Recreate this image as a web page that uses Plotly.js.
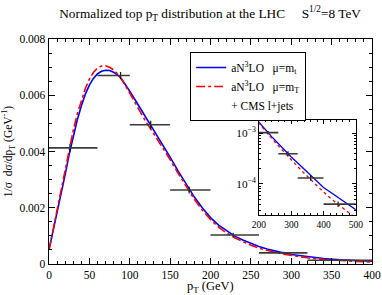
<!DOCTYPE html>
<html>
<head>
<meta charset="utf-8">
<script src="https://cdn.plot.ly/plotly-3.0.1.min.js"></script>
<style>html,body{margin:0;padding:0;background:#fff;}#chart{width:382px;height:295px;}</style>
</head>
<body>
<div id="chart"></div>
<script>
// Theory curves (pT in GeV, 1/sigma dsigma/dpT in GeV^-1)
const ptCurve = [0,5,10,15,20,25,30,35,40,45,50,55,60,65,70,75,80,85,90,95,100,110,120,130,140,150,160,170,180,190,200,210,220,230,240,250,260,270,280,290,300,320,340,360,380,400,425,450,475,500];
const blueMt = [0.00050,0.00115,0.00180,0.00248,0.00318,0.00390,0.00455,0.00512,0.00562,0.00604,0.00636,0.00660,0.00676,0.00685,0.00689,0.00688,0.00682,0.00672,0.00658,0.00638,0.00614,0.00568,0.00522,0.00475,0.00428,0.00380,0.00330,0.00282,0.00238,0.00199,0.00165,0.00138,0.00117,0.00099,0.00085,0.00073,0.000625,0.000535,0.00046,0.000395,0.00034,0.00026,0.000195,0.000145,0.00011,0.000085,0.000066,0.000052,0.00004,0.000031];
const redMT = [0.00050,0.00122,0.00192,0.00263,0.00335,0.00408,0.00475,0.00533,0.00582,0.00624,0.00657,0.00681,0.00697,0.00704,0.00705,0.00700,0.00690,0.00675,0.00656,0.00633,0.00608,0.00556,0.00506,0.00462,0.00418,0.00371,0.00322,0.00274,0.00230,0.00191,0.00158,0.00131,0.00110,0.00093,0.000785,0.000665,0.000565,0.00048,0.00041,0.00035,0.00030,0.00022,0.000163,0.000122,0.000091,0.000069,0.00005,0.000037,0.000028,0.000021];

// CMS l+jets data
const binLow  = [0,60,100,150,200,260,320,400];
const binHigh = [60,100,150,200,260,320,400,500];
const ptData  = [26,88.7,126,173.6,228,290,360,445];
const cmsVal  = [0.00413,0.00670,0.00495,0.00263,0.00103,0.000395,0.000131,0.000040];
const cmsErr  = [0.00014,0.00013,0.00014,0.00012,0.00008,0.000045,0.000015,0.000005];

// Tick labels
const xTicks = [0,50,100,150,200,250,300,350,400];
const yTicks = [0,0.002,0.004,0.006,0.008];
const yTickText = ['0','0.002','0.004','0.006','0.008'];
const insetXTicks = [200,300,400,500];

const serif = 'Liberation Serif, Times New Roman, serif';
const errPlus = binHigh.map((h,i)=>h-ptData[i]);
const errMinus = ptData.map((x,i)=>x-binLow[i]);

function dataTrace(xa, ya){
  return {
    x: ptData, y: cmsVal, xaxis: xa, yaxis: ya, type:'scatter', mode:'markers',
    marker:{size:1, color:'rgba(0,0,0,0)'}, showlegend:false, hoverinfo:'skip',
    error_x:{type:'data', symmetric:false, array:errPlus, arrayminus:errMinus, color:'#3a3a3a', thickness:1.6, width:0},
    error_y:{type:'data', array:cmsErr, color:'#000', thickness:1.1, width:0}
  };
}

const traces = [
  {x: ptCurve, y: blueMt, type:'scatter', mode:'lines', name:'aN<sup>3</sup>LO\u00a0\u00a0\u00a0μ=m<sub>t</sub>', line:{color:'#0000ff', width:1.6}},
  {x: ptCurve, y: redMT, type:'scatter', mode:'lines', name:'aN<sup>3</sup>LO\u00a0\u00a0\u00a0μ=m<sub>T</sub>', line:{color:'#ff0000', width:1.6, dash:'dashdot'}},
  {x:[null], y:[null], type:'scatter', mode:'lines', name:'+ CMS l+jets', line:{width:0, color:'rgba(0,0,0,0)'}},
  dataTrace('x','y'),
  {x: ptCurve, y: blueMt, xaxis:'x2', yaxis:'y2', type:'scatter', mode:'lines', showlegend:false, line:{color:'#0000ff', width:1.3}},
  {x: ptCurve, y: redMT, xaxis:'x2', yaxis:'y2', type:'scatter', mode:'lines', showlegend:false, line:{color:'#ff0000', width:1.3, dash:'dot'}},
  dataTrace('x2','y2')
];

const axisCommon = {
  showline:true, linecolor:'#000', linewidth:1.4, mirror:'allticks',
  ticks:'inside', ticklen:6, tickwidth:1, tickcolor:'#000',
  showgrid:false, zeroline:false,
  tickfont:{family:serif, size:11.5, color:'#000'}
};

const layout = {
  width:382, height:295,
  margin:{l:49, r:10, t:39, b:31},
  paper_bgcolor:'#fff', plot_bgcolor:'#fff',
  font:{family:serif, color:'#000'},
  title:{text:'Normalized top p<sub>T</sub> distribution at the LHC\u00a0\u00a0\u00a0\u00a0\u00a0S<sup>1/2</sup>=8 TeV', font:{family:serif, size:13.3, color:'#000'}, x:0.55, xanchor:'center', y:0.955, yanchor:'middle'},
  xaxis: Object.assign({}, axisCommon, {
    range:[0,400], tickvals:xTicks, ticktext:xTicks.map(String),
    minor:{ticks:'inside', dtick:10, ticklen:3, tickcolor:'#000', tickwidth:1}
  }),
  yaxis: Object.assign({}, axisCommon, {
    range:[0,0.008], tickvals:yTicks, ticktext:yTickText,
    minor:{ticks:'inside', dtick:0.0005, ticklen:3, tickcolor:'#000', tickwidth:1},
    title:{text:'1/σ  dσ/dp<sub>T</sub> (GeV<sup>-1</sup>)', font:{family:serif, size:11.5, color:'#000'}, standoff:4}
  }),
  xaxis2: {
    domain:[0.650,0.950], anchor:'y2', range:[200,500], tickvals:insetXTicks, ticktext:insetXTicks.map(String),
    showline:true, linecolor:'#000', linewidth:1.2, mirror:'allticks', ticks:'inside', ticklen:4, tickcolor:'#000',
    minor:{ticks:'inside', dtick:20, ticklen:2, tickcolor:'#000'},
    showgrid:false, zeroline:false, tickfont:{family:serif, size:9.5, color:'#000'}
  },
  yaxis2: {
    domain:[0.218,0.640], anchor:'x2', type:'log', range:[-4.612,-2.738], dtick:1, exponentformat:'power',
    showline:true, linecolor:'#000', linewidth:1.2, mirror:'allticks', ticks:'inside', ticklen:4, tickcolor:'#000',
    minor:{ticks:'inside', ticklen:2, tickcolor:'#000', dtick:'D1'},
    showgrid:false, zeroline:false, tickfont:{family:serif, size:9, color:'#000'}
  },
  annotations:[
    {text:'p<sub>T</sub> (GeV)', xref:'paper', yref:'paper', x:0.5, y:-0.104, xanchor:'center', yanchor:'middle',
     showarrow:false, font:{family:serif, size:12.5, color:'#000'}}
  ],
  legend:{x:0.437, y:0.942, xanchor:'left', yanchor:'top', bgcolor:'#fff', bordercolor:'#000', borderwidth:1,
          font:{family:serif, size:11.5, color:'#000'}, itemwidth:30, tracegroupgap:0},
  showlegend:true
};

Plotly.newPlot('chart', traces, layout, {staticPlot:true, displayModeBar:false});
</script>
</body>
</html>
